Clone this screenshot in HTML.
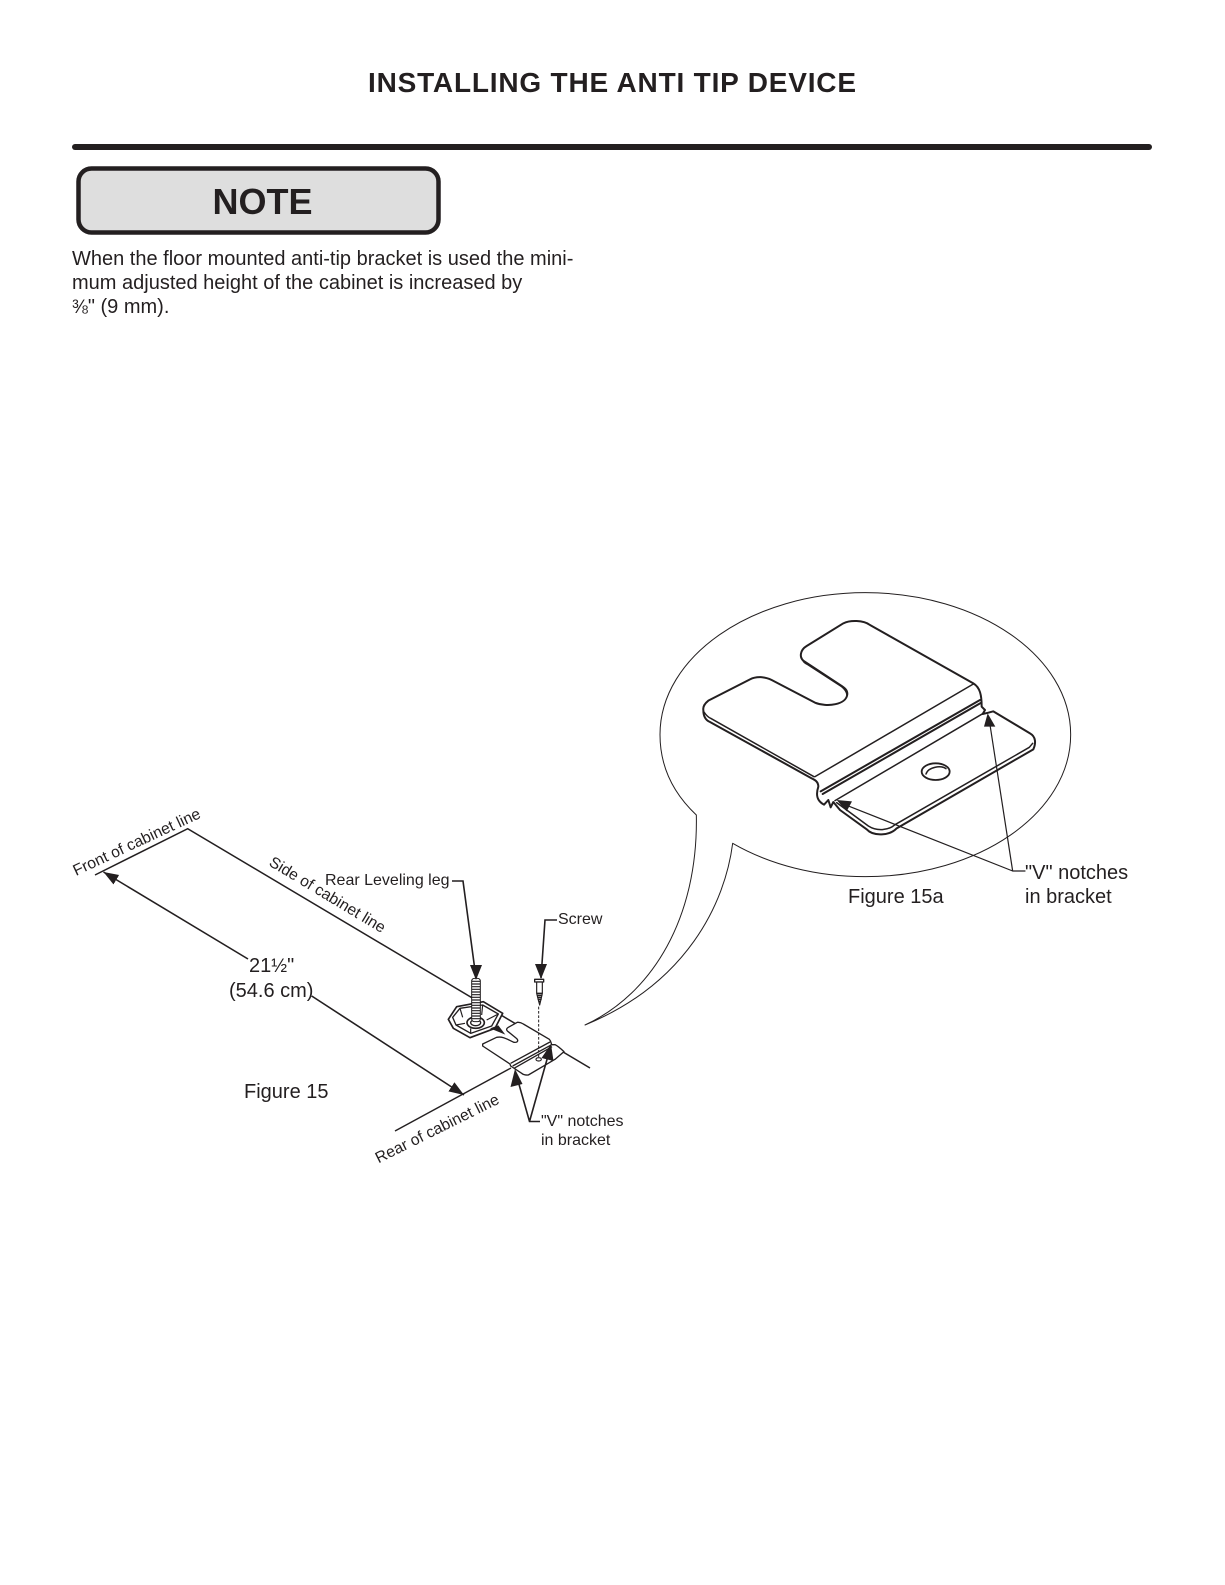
<!DOCTYPE html>
<html><head><meta charset="utf-8"><style>
html,body{margin:0;padding:0;background:#fff}
svg{display:block}
text{font-family:"Liberation Sans",sans-serif;fill:#231f20}
</style></head><body>
<svg width="1225" height="1585" viewBox="0 0 1225 1585" xmlns="http://www.w3.org/2000/svg">
<defs>
<marker id="a" markerUnits="userSpaceOnUse" markerWidth="18" markerHeight="14" refX="15" refY="7" orient="auto"><path d="M0,1.5 L15,7 L0,12.5Z" fill="#231f20"/></marker>
</defs>
<rect width="1225" height="1585" fill="#fff"/>
<text x="368" y="92" font-size="28" font-weight="bold" textLength="488" lengthAdjust="spacing">INSTALLING THE ANTI TIP DEVICE</text>
<rect x="72" y="144" width="1080" height="6" rx="3" fill="#231f20"/>
<rect x="78.5" y="168.5" width="360" height="64" rx="13" fill="#dedede" stroke="#231f20" stroke-width="4.5"/>
<text x="212.5" y="214" font-size="36" font-weight="bold">NOTE</text>
<text x="72" y="265" font-size="20">When the floor mounted anti-tip bracket is used the mini-</text>
<text x="72" y="289" font-size="20">mum adjusted height of the cabinet is increased by</text>
<text x="72" y="313" font-size="20"><tspan font-size="19">⅜</tspan>" (9 mm).</text>

<!-- Figure 15a -->
<g transform="translate(640,570) scale(.33333)" fill="none" stroke="#231f20" stroke-linejoin="round" stroke-linecap="round">
<path d="M169,735 C100,670 60,590 60,494 C60,259 336,68 676,68 C1016,68 1292,259 1292,494 C1292,729 1016,920 676,920 C530,920 390,885 278,820 C255,1000 140,1240 -165,1365 C40,1270 175,1040 169,735Z" fill="#fff" stroke-width="3"/>
<path d="M190,420 C188,408 195,400 205,392 L330,328 C350,318 375,320 395,330 L525,398 C560,412 620,405 622,372 C622,360 615,355 605,348 L490,272 C478,262 480,240 500,228 L610,160 C630,150 670,150 690,165 L1000,340 C1020,352 1025,375 1025,410 L1035,420 L1028,432 L1045,428 L1060,424 L1170,490 C1188,500 1188,520 1180,538 L770,775 C750,797 700,800 680,778 L600,720 L580,696 L572,712 L565,690 L552,704 C535,695 525,680 535,650 C535,635 525,630 515,625 L210,456 C195,450 190,438 190,420Z" fill="#fff" stroke-width="6"/>
<path d="M192,426 C200,438 205,442 212,445 L522,620" stroke-width="4.5"/>
<path d="M484,262 C488,275 495,280 505,285 L605,350 C615,358 620,365 621,375" stroke-width="4.5"/>
<path d="M525,620 L1000,342" stroke-width="4.5"/>
<path d="M542,664 L1020,390 M548,672 L1024,398" stroke-width="6"/>
<path d="M585,692 L1030,430" stroke-width="4.5"/>
<path d="M765,764 L1168,532 L1178,520 M590,698 L685,768 C710,784 745,782 765,764" stroke-width="4.5"/>
<ellipse cx="887" cy="605" rx="42" ry="25" fill="#fff" stroke-width="5.5"/>
<path d="M858,612 C865,590 905,585 918,596" stroke-width="4.5"/>
<path d="M1155,903 L1118,903 L600,698 M1118,903 L1047,445" stroke-width="3.6"/>
<path d="M1043,430 L1066,470 L1032,470Z M590,690 L636,694 L620,724Z" fill="#231f20" stroke="none"/>
</g>
<text x="1025" y="879" font-size="20">"V" notches</text>
<text x="1025" y="903" font-size="20">in bracket</text>
<text x="848" y="903" font-size="20">Figure 15a</text>

<!-- Figure 15 lines -->
<g fill="none" stroke="#231f20">
<path d="M95,875 L187.7,828.7 L590,1068" stroke-width="1.5"/>
<path d="M395,1131 L511,1068" stroke-width="1.4"/>
<path d="M248,959 L103.5,872" stroke-width="1.6" marker-end="url(#a)"/>
<path d="M311.7,996 L464,1095" stroke-width="1.6" marker-end="url(#a)"/>
</g>
<text font-size="15.8" transform="translate(76,876) rotate(-25)">Front of cabinet line</text>
<text font-size="15.7" transform="translate(268,865) rotate(31)">Side of cabinet line</text>
<text font-size="15.8" transform="translate(378.5,1163.5) rotate(-26.4)">Rear of cabinet line</text>
<text x="325" y="885" font-size="16">Rear Leveling leg</text>
<text x="558" y="924" font-size="16">Screw</text>
<text x="541" y="1126" font-size="16">"V" notches</text>
<text x="541" y="1145" font-size="16">in bracket</text>
<text x="249" y="972" font-size="20">21<tspan font-size="19">½</tspan>"</text>
<text x="229" y="997" font-size="20">(54.6 cm)</text>
<text x="244" y="1098" font-size="20">Figure 15</text>

<!-- Hardware -->
<g transform="translate(440,960) scale(.33333)" fill="none" stroke="#231f20" stroke-linejoin="round">
<path d="M25,178 L50,140 L130,125 L188,160 L165,205 L90,233 L40,205Z" fill="#fff" stroke-width="5"/>
<path d="M38,172 L60,145 L128,135 L175,162 L155,198 L92,220 L48,195Z" stroke-width="4"/>
<path d="M60,145 L68,172 M128,135 L125,165 M175,162 L140,180 M92,220 L92,205 M48,195 L75,190" stroke-width="3.5"/>
<ellipse cx="107" cy="188" rx="26" ry="17" fill="#fff" stroke-width="5"/>
<ellipse cx="107" cy="188" rx="15" ry="9" stroke-width="4"/>
<rect x="95" y="55" width="26" height="130" rx="8" fill="#fff" stroke-width="3"/>
<path d="M95,64H121M95,72H121M95,80H121M95,88H121M95,96H121M95,104H121M95,112H121M95,120H121M95,128H121M95,136H121M95,144H121M95,152H121M95,160H121M95,168H121M95,176H121" stroke-width="3.5"/>
<path d="M372,275 L340,255 L210,318 L250,345 L265,345Z" fill="#fff" stroke="none"/>
<path d="M128,252 L170,232 C190,228 205,240 222,247 C235,248 236,240 228,234 L202,213 C198,208 200,205 205,202 L232,187 C240,186 244,188 250,192 L328,238 C333,243 333,248 335,254 L345,254 C350,256 360,264 372,275 L345,298 L265,345 C255,346 250,344 245,340 L212,318 L210,312 L128,258Z" fill="#fff" stroke-width="4"/>
<path d="M212,310 L330,246 M218,318 L335,254 M222,325 L336,260" stroke-width="4"/>
<ellipse cx="296" cy="298" rx="8" ry="5" fill="#fff" stroke-width="3.5"/>
<path d="M296,140 V292" stroke-width="3" stroke-dasharray="8 5"/>
<path d="M284,58 H311 V66 H284Z" fill="#fff" stroke-width="4"/>
<path d="M290,66 L307,66 L307,100 L299,135 L290,100Z" fill="#fff" stroke-width="3.5"/>
<path d="M290,100H307M291,106H307M292,112H306M293,118H305M295,124H303" stroke-width="4.5"/>
<path d="M150,205 L196,224 L175,196Z" fill="#231f20" stroke="none"/>
</g>
<g fill="none" stroke="#231f20">
<path d="M452,881 H463 L476,978" stroke-width="1.6"/>
<path d="M557,920 H545 L541,978" stroke-width="1.6"/>
<path d="M540,1121.5 H529.5 L515.5,1072" stroke-width="1.6"/>
<path d="M529.5,1121.5 L550.5,1047" stroke-width="1.6"/>
</g>
<g fill="#231f20">
<path d="M476,980 L470,965 L482,965Z"/>
<path d="M541,979 L535,964 L547,964Z"/>
<path d="M515,1069 L522.5,1084 L510.5,1087Z"/>
<path d="M551,1044 L553.5,1061 L541.5,1058Z"/>
</g>
</svg>
</body></html>
